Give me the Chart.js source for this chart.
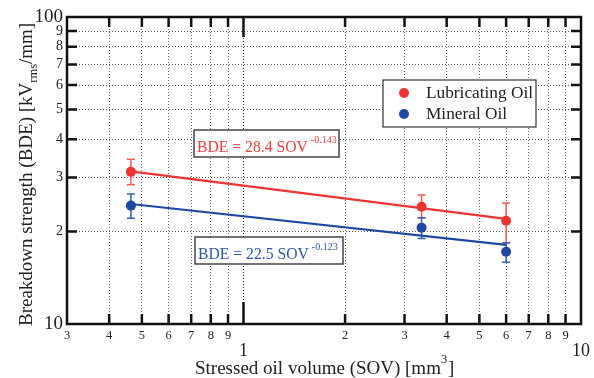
<!DOCTYPE html>
<html lang="en">
<head>
    <meta charset="UTF-8">
    <title>Breakdown strength vs stressed oil volume</title>
    <script src="https://cdn.jsdelivr.net/npm/chart.js"></script>
    <style>
        html, body { margin: 0; padding: 0; background: #fff; }
    </style>
</head>
<body>
    <canvas id="bdeChart" width="594" height="378"></canvas>

    <script>
        // measured points (SOV in mm^3, BDE in kVrms/mm)
        const sov = [0.464, 3.37, 6.0];
        const lubBde = [31.3, 24.1, 21.7];
        const lubHigh = [34.4, 26.3, 24.8];
        const lubLow = [28.4, 22.2, 18.4];
        const minBde = [24.3, 20.6, 17.2];
        const minHigh = [26.5, 22.2, 18.4];
        const minLow = [22.1, 19.0, 15.9];

        // fitted power-law lines (end points)
        const fitSov = [0.464, 6.0];
        const lubFit = [31.4, 22.0];
        const minFit = [24.6, 18.1];

        const xTicks = [0.3, 0.4, 0.5, 0.6, 0.7, 0.8, 0.9, 1, 2, 3, 4, 5, 6, 7, 8, 9, 10];
        const yTicks = [10, 20, 30, 40, 50, 60, 70, 80, 90, 100];

        const RED = '#f03434';
        const BLUE = '#1f48a3';
        const SERIF = '"Liberation Serif", "Times New Roman", serif';

        const toXY = (xs, ys) => xs.map((x, i) => ({ x: x, y: ys[i] }));

        const extras = {
            id: 'extras',
            beforeDatasetsDraw(chart) {
                const ctx = chart.ctx;
                const xs = chart.scales.x, ys = chart.scales.y;
                const bars = [
                    { hi: lubHigh, lo: lubLow, color: '#f25a5a' },
                    { hi: minHigh, lo: minLow, color: '#3560b3' }
                ];
                ctx.save();
                bars.forEach(b => {
                    ctx.strokeStyle = b.color;
                    ctx.lineWidth = 1.5;
                    sov.forEach((v, i) => {
                        const px = xs.getPixelForValue(v);
                        const top = ys.getPixelForValue(b.hi[i]);
                        const bot = ys.getPixelForValue(b.lo[i]);
                        ctx.beginPath();
                        ctx.moveTo(px, top); ctx.lineTo(px, bot);
                        ctx.moveTo(px - 4, top); ctx.lineTo(px + 4, top);
                        ctx.moveTo(px - 4, bot); ctx.lineTo(px + 4, bot);
                        ctx.stroke();
                    });
                });
                ctx.restore();
            },
            afterDraw(chart) {
                const ctx = chart.ctx;
                const a = chart.chartArea;
                const xs = chart.scales.x, ys = chart.scales.y;
                ctx.save();

                // frame
                ctx.strokeStyle = '#111';
                ctx.lineWidth = 2.5;
                ctx.strokeRect(a.left, a.top, a.right - a.left, a.bottom - a.top);

                // inside ticks
                ctx.beginPath();
                yTicks.slice(1, -1).forEach(v => {
                    const py = ys.getPixelForValue(v);
                    ctx.moveTo(a.left, py); ctx.lineTo(a.left + 10, py);
                    ctx.moveTo(a.right, py); ctx.lineTo(a.right - 10, py);
                });
                xTicks.slice(1, -1).forEach(v => {
                    const px = xs.getPixelForValue(v);
                    ctx.moveTo(px, a.bottom); ctx.lineTo(px, a.bottom - (v === 1 ? 22 : 10));
                    ctx.moveTo(px, a.top); ctx.lineTo(px, a.top + (v === 1 ? 20 : 10));
                });
                ctx.stroke();

                // fit equation boxes
                const eqs = [
                    { box: [194, 130, 145, 27], text: 'BDE = 28.4 SOV', sup: '-0.143', base: 152, color: '#f04040' },
                    { box: [195, 237, 148, 27], text: 'BDE = 22.5 SOV', sup: '-0.123', base: 259, color: '#2c56b0' }
                ];
                eqs.forEach(e => {
                    ctx.fillStyle = '#fff';
                    ctx.fillRect(e.box[0], e.box[1], e.box[2], e.box[3]);
                    ctx.strokeStyle = '#444';
                    ctx.lineWidth = 1.5;
                    ctx.strokeRect(e.box[0], e.box[1], e.box[2], e.box[3]);
                    ctx.fillStyle = e.color;
                    ctx.textAlign = 'left';
                    ctx.textBaseline = 'alphabetic';
                    ctx.font = '15.7px ' + SERIF;
                    ctx.fillText(e.text, e.box[0] + 3, e.base);
                    const w = ctx.measureText(e.text).width;
                    ctx.font = '10px ' + SERIF;
                    ctx.fillText(e.sup, e.box[0] + 3 + w + 3, e.base - 9);
                });

                // legend
                ctx.fillStyle = '#fff';
                ctx.fillRect(383, 80, 153, 47);
                ctx.strokeStyle = '#333';
                ctx.lineWidth = 1.2;
                ctx.strokeRect(383, 80, 153, 47);
                chart.data.datasets.slice(0, 2).forEach((ds, i) => {
                    const cy = 93 + i * 21;
                    ctx.fillStyle = ds.backgroundColor;
                    ctx.beginPath();
                    ctx.arc(404, cy, 5, 0, Math.PI * 2);
                    ctx.fill();
                    ctx.fillStyle = '#222';
                    ctx.font = '17.3px ' + SERIF;
                    ctx.textBaseline = 'middle';
                    ctx.fillText(ds.label, 426, cy);
                });

                // x axis title
                ctx.fillStyle = '#222';
                ctx.textBaseline = 'alphabetic';
                ctx.font = '19px ' + SERIF;
                const xt = 'Stressed oil volume (SOV) [mm';
                ctx.fillText(xt, 195, 374);
                let w = ctx.measureText(xt).width;
                ctx.font = '12.5px ' + SERIF;
                ctx.fillText('3', 195 + w, 363);
                ctx.font = '19px ' + SERIF;
                ctx.fillText(']', 195 + w + 7, 374);

                // y axis title
                ctx.translate(32, 326);
                ctx.rotate(-Math.PI / 2);
                ctx.font = '19px ' + SERIF;
                const yt = 'Breakdown strength (BDE) [kV';
                ctx.fillText(yt, 0, 0);
                w = ctx.measureText(yt).width;
                ctx.font = '12.5px ' + SERIF;
                ctx.fillText('rms', w, 5);
                const ws = ctx.measureText('rms').width;
                ctx.font = '19px ' + SERIF;
                ctx.fillText('/mm]', w + ws, 0);

                ctx.restore();
            }
        };

        new Chart(document.getElementById('bdeChart'), {
            type: 'line',
            data: {
                datasets: [
                    {
                        label: 'Lubricating Oil',
                        data: toXY(sov, lubBde),
                        showLine: false,
                        backgroundColor: RED,
                        borderColor: RED,
                        pointRadius: 5,
                        pointBorderWidth: 0
                    },
                    {
                        label: 'Mineral Oil',
                        data: toXY(sov, minBde),
                        showLine: false,
                        backgroundColor: BLUE,
                        borderColor: BLUE,
                        pointRadius: 5,
                        pointBorderWidth: 0
                    },
                    {
                        label: 'Lubricating fit',
                        data: toXY(fitSov, lubFit),
                        borderColor: RED,
                        borderWidth: 2.2,
                        pointRadius: 0
                    },
                    {
                        label: 'Mineral fit',
                        data: toXY(fitSov, minFit),
                        borderColor: BLUE,
                        borderWidth: 2.2,
                        pointRadius: 0
                    }
                ]
            },
            options: {
                responsive: false,
                animation: false,
                layout: { padding: { top: 17, right: 9, left: 0, bottom: 0 } },
                plugins: {
                    legend: { display: false },
                    tooltip: { enabled: false }
                },
                scales: {
                    x: {
                        type: 'logarithmic',
                        min: 0.3,
                        max: 10,
                        afterBuildTicks: s => { s.ticks = xTicks.map(v => ({ value: v })); },
                        afterFit: s => { s.height = 54; },
                        border: { display: false, dash: [1, 2] },
                        grid: {
                            drawTicks: false,
                            color: c => (c.tick && c.tick.value === 1) ? '#222' : '#666',
                            lineWidth: 1
                        },
                        ticks: {
                            autoSkip: false,
                            maxRotation: 0,
                            padding: 4,
                            color: '#222',
                            font: c => {
                                const v = c.tick ? c.tick.value : 0;
                                return (v === 1 || v === 10)
                                    ? { family: SERIF, size: 18, lineHeight: 0.85 }
                                    : { family: SERIF, size: 12.5, lineHeight: 1.2 };
                            },
                            callback: v => {
                                if (v === 1 || v === 10) return ['', String(v)];
                                if (v < 1) return String(Math.round(v * 10));
                                return String(v);
                            }
                        }
                    },
                    y: {
                        type: 'logarithmic',
                        min: 10,
                        max: 100,
                        afterBuildTicks: s => { s.ticks = yTicks.map(v => ({ value: v })); },
                        afterFit: s => { s.width = 67; },
                        border: { display: false, dash: [1, 2] },
                        grid: {
                            drawTicks: false,
                            color: '#555',
                            lineWidth: 1
                        },
                        ticks: {
                            autoSkip: false,
                            padding: 4,
                            color: '#222',
                            font: c => {
                                const v = c.tick ? c.tick.value : 0;
                                return (v === 10 || v === 100)
                                    ? { family: SERIF, size: 19 }
                                    : { family: SERIF, size: 14 };
                            },
                            callback: v => (v === 10 || v === 100) ? String(v) : String(v / 10)
                        }
                    }
                }
            },
            plugins: [extras]
        });
    </script>
</body>
</html>
